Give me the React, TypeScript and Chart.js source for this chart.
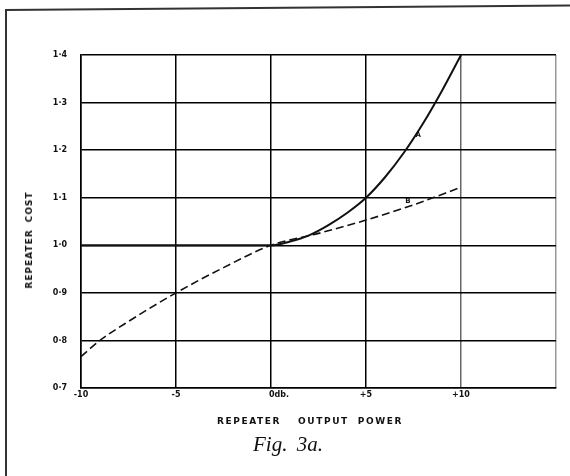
import React, { useEffect, useRef } from "react";
import { Chart, registerables } from "chart.js";

Chart.register(...registerables);

// ---- data ----
const xTickValues = [-10, -5, 0, 5, 10, 15];
const xTickLabels = ["-10", "-5", "0db.", "+5", "+10", ""];
const yTickValues = [0.7, 0.8, 0.9, 1.0, 1.1, 1.2, 1.3, 1.4];
const yTickLabels = ["0·7", "0·8", "0·9", "1·0", "1·1", "1·2", "1·3", "1·4"];

const curveAX = [-10, -5, 0, 1, 2, 3, 4, 5, 6, 7, 8, 9, 10];
const curveAY = [1.0, 1.0, 1.0, 1.008, 1.021, 1.042, 1.068, 1.1, 1.143, 1.195, 1.256, 1.325, 1.4];
const curveBX = [-10, -9, -7.5, -5, -2.5, 0, 2.5, 5, 7.5, 10];
const curveBY = [0.766, 0.8, 0.84, 0.9, 0.953, 1.0, 1.025, 1.053, 1.085, 1.122];

const curveLabels = ["A", "B"];
const curveLabelX = [7.75, 7.2];
const curveLabelY = [1.231, 1.092];

const xTitleWords = ["REPEATER", "OUTPUT", "POWER"];
const yTitleWords = ["REPEATER", "COST"];
const caption = "Fig. 3a.";

const tickFont = { family: "'DejaVu Sans', sans-serif", weight: "bold" as const, size: 8 };

const curveLabelPlugin = {
  id: "curveLabels",
  afterDatasetsDraw(chart: any) {
    const { ctx, scales } = chart;
    const x = scales.x;
    const y = scales.y;
    ctx.save();
    ctx.font = "bold 7px 'DejaVu Sans', sans-serif";
    ctx.fillStyle = "#111";
    ctx.textAlign = "center";
    ctx.textBaseline = "middle";
    curveLabels.forEach((t, i) => {
      ctx.fillText(t, x.getPixelForValue(curveLabelX[i]), y.getPixelForValue(curveLabelY[i]));
    });
    ctx.restore();
  },
};

export default function App() {
  const canvasRef = useRef<HTMLCanvasElement | null>(null);

  useEffect(() => {
    const canvas = canvasRef.current;
    if (!canvas) return;
    const chart = new Chart(canvas, {
      type: "line",
      data: {
        datasets: [
          {
            label: "A",
            data: curveAX.map((x, i) => ({ x, y: curveAY[i] })),
            borderColor: "#111",
            borderWidth: 2,
            pointRadius: 0,
            cubicInterpolationMode: "monotone",
            fill: false,
          },
          {
            label: "B",
            data: curveBX.map((x, i) => ({ x, y: curveBY[i] })),
            borderColor: "#111",
            borderWidth: 1.6,
            borderDash: [8, 4],
            pointRadius: 0,
            cubicInterpolationMode: "monotone",
            fill: false,
          },
        ],
      },
      options: {
        responsive: false,
        maintainAspectRatio: false,
        animation: false,
        devicePixelRatio: 1,
        layout: { padding: { left: 0, right: 14, top: 55, bottom: 0 } },
        plugins: {
          legend: { display: false },
          tooltip: { enabled: false },
          title: { display: false },
        },
        scales: {
          x: {
            type: "linear",
            min: -10,
            max: 15,
            afterBuildTicks: (s: any) => {
              s.ticks = xTickValues.map((v) => ({ value: v }));
            },
            afterFit: (s: any) => {
              s.height = 88;
            },
            ticks: {
              autoSkip: false,
              maxRotation: 0,
              padding: 2,
              color: "#111",
              font: tickFont,
              callback: (_v: any, i: number) => {
                const lbl = xTickLabels[i] ?? "";
                return xTickValues[i] === 0 ? "\u2003\u2003" + lbl : lbl;
              },
            },
            grid: {
              drawTicks: false,
              lineWidth: 1.5,
              color: (c: any) =>
                c.tick && c.tick.value === 10 ? "#666" : c.tick && c.tick.value === 15 ? "#999" : "#000",
            },
            border: { display: true, color: "#000", width: 1.5 },
          },
          y: {
            type: "linear",
            min: 0.7,
            max: 1.4,
            afterBuildTicks: (s: any) => {
              s.ticks = yTickValues.map((v) => ({ value: v }));
            },
            afterFit: (s: any) => {
              s.width = 81;
            },
            ticks: {
              autoSkip: false,
              padding: 14,
              color: "#111",
              font: tickFont,
              callback: (_v: any, i: number) => yTickLabels[i] ?? "",
            },
            grid: {
              drawTicks: false,
              lineWidth: 1.5,
              color: "#000",
            },
            border: { display: true, color: "#000", width: 1.5 },
          },
        },
      },
      plugins: [curveLabelPlugin],
    } as any);
    return () => chart.destroy();
  }, []);

  const titleStyle: React.CSSProperties = {
    position: "absolute",
    fontFamily: "'DejaVu Sans', sans-serif",
    fontWeight: "bold",
    fontSize: 9,
    letterSpacing: "1.6px",
    color: "#111",
    whiteSpace: "pre",
    lineHeight: "10px",
  };

  return (
    <div style={{ position: "absolute", left: 0, top: 0, width: 570, height: 476, background: "#fff", overflow: "hidden" }}>
      <canvas ref={canvasRef} width={570} height={476} style={{ display: "block", position: "absolute", left: 0, top: 0 }} />
      {/* scan frame */}
      <div style={{ position: "absolute", left: 5, top: 9, width: 2, height: 470, background: "#333" }} />
      <div
        style={{
          position: "absolute",
          left: 5,
          top: 9,
          width: 570,
          height: 2,
          background: "#333",
          transformOrigin: "0 0",
          transform: "rotate(-0.45deg)",
        }}
      />
      {/* x title */}
      <div style={{ ...titleStyle, left: 217, top: 416 }}>
        <span>{xTitleWords[0]}</span>
        <span style={{ marginLeft: 17 }}>{xTitleWords[1]}</span>
        <span style={{ marginLeft: 9 }}>{xTitleWords[2]}</span>
      </div>
      {/* y title */}
      <div
        style={{
          ...titleStyle,
          letterSpacing: "1px",
          left: 29,
          top: 240,
          transform: "translate(-50%, -50%) rotate(-90deg)",
        }}
      >
        <span>{yTitleWords[0]}</span>
        <span style={{ marginLeft: 7 }}>{yTitleWords[1]}</span>
      </div>
      {/* caption */}
      <div
        style={{
          position: "absolute",
          left: 253,
          top: 432,
          fontFamily: "'Liberation Serif', 'DejaVu Serif', serif",
          fontStyle: "italic",
          fontSize: 21,
          wordSpacing: "4px",
          color: "#111",
          whiteSpace: "pre",
          lineHeight: "24px",
        }}
      >
        {caption}
      </div>
    </div>
  );
}
